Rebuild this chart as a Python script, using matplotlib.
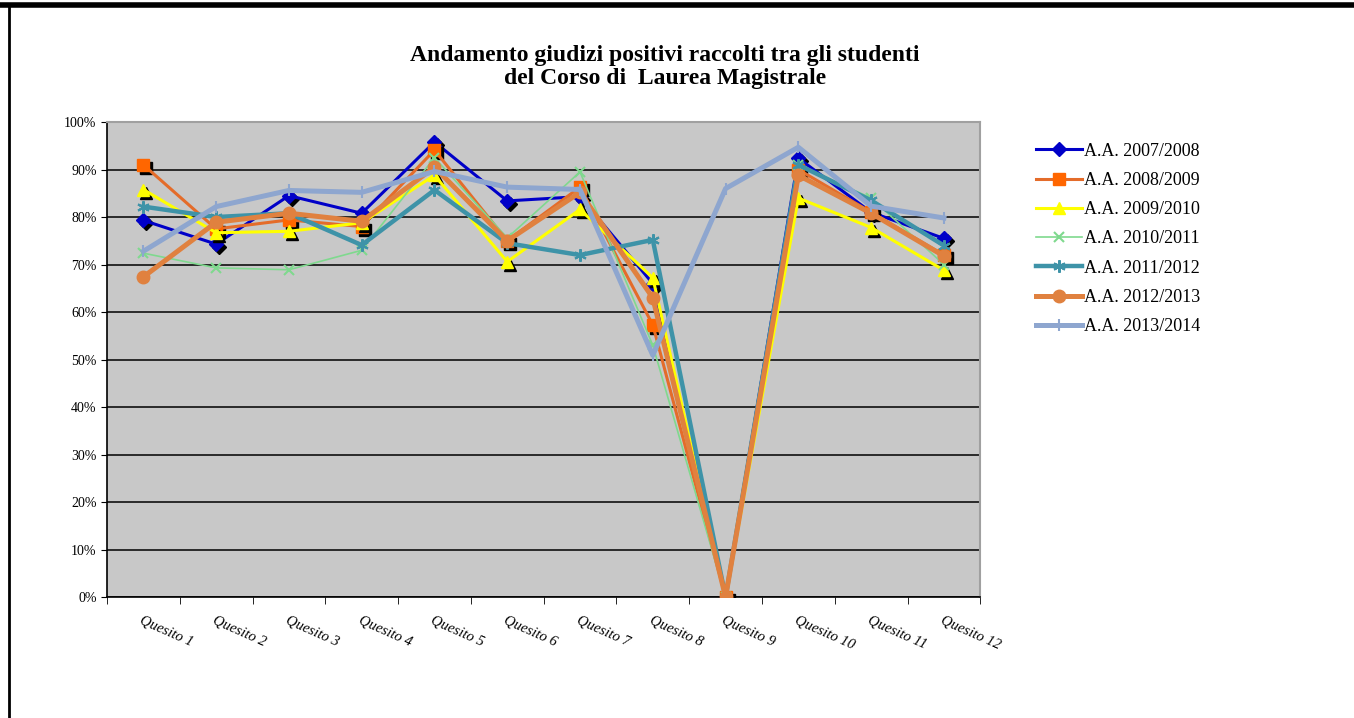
import matplotlib
matplotlib.use('Agg')
import matplotlib.pyplot as plt
import matplotlib.transforms as mtransforms
from matplotlib.lines import Line2D
from matplotlib.ticker import FuncFormatter, FixedLocator
import numpy as np

questions = ['Quesito 1', 'Quesito 2', 'Quesito 3', 'Quesito 4', 'Quesito 5', 'Quesito 6',
             'Quesito 7', 'Quesito 8', 'Quesito 9', 'Quesito 10', 'Quesito 11', 'Quesito 12']

years = ['A.A. 2007/2008', 'A.A. 2008/2009', 'A.A. 2009/2010', 'A.A. 2010/2011',
         'A.A. 2011/2012', 'A.A. 2012/2013', 'A.A. 2013/2014']

# percent of positive answers
aa_0708 = [79.3, 74.3, 84.5, 80.8, 95.8, 83.4, 84.3, 66.0, 0, 92.4, 81.0, 75.5]
aa_0809 = [91.0, 77.5, 79.4, 78.0, 94.1, 75.0, 86.3, 57.3, 0, 90.0, 81.0, 72.0]
aa_0910 = [85.8, 76.7, 77.0, 78.8, 88.8, 70.6, 81.6, 67.2, 0, 84.0, 77.8, 68.8]
aa_1011 = [72.4, 69.3, 68.9, 73.0, 92.5, 75.6, 89.5, 53.0, 0, 91.0, 84.0, 70.0]
aa_1112 = [82.2, 80.0, 80.8, 74.1, 85.7, 74.5, 72.0, 75.2, 0, 91.0, 83.5, 74.0]
aa_1213 = [67.4, 78.9, 80.8, 79.1, 90.5, 75.0, 85.2, 63.0, 0, 88.8, 80.8, 71.8]
aa_1314 = [72.8, 82.2, 85.6, 85.2, 89.6, 86.3, 85.8, 50.9, 86.0, 94.7, 82.3, 79.8]

series = [aa_0708, aa_0809, aa_0910, aa_1011, aa_1112, aa_1213, aa_1314]

line_colors = ['#0000C8', '#E46C2A', '#FFFF00', '#7FD98E', '#3E93A8', '#E0813F', '#8EA6CF']
marker_colors = ['#0000C8', '#FF6600', '#FFFF00', '#7FD98E', '#3E93A8', '#E0813F', '#8EA6CF']
markers = ['D', 's', '^', 'x', (6, 2, 0), 'o', '|']
marker_sizes = [7, 9, 9, 7, 9, 9, 9]
line_widths = [2.2, 2.2, 2.2, 1.2, 3.2, 3.6, 3.6]
shadowed = [True, True, True, False, False, False, False]

serif = ['Liberation Serif', 'DejaVu Serif']

fig = plt.figure(figsize=(13.54, 7.18), dpi=100)
ax = fig.add_axes([0.079, 0.1685, 0.645, 0.6615])
ax.set_facecolor('#C8C8C8')

x = np.arange(1, len(questions) + 1)

for i, vals in enumerate(series):
    vals = np.array(vals) / 100
    if shadowed[i]:
        # black drop shadow behind the markers, like Excel draws it
        shadow = mtransforms.offset_copy(ax.transData, fig=fig, x=3, y=-3, units='dots')
        ax.plot(x, vals, linestyle='none', marker=markers[i], markersize=marker_sizes[i],
                color='black', transform=shadow, zorder=2 + i * 0.1)
    ax.plot(x, vals, color=line_colors[i], linewidth=line_widths[i], marker=markers[i],
            markersize=marker_sizes[i], markerfacecolor=marker_colors[i],
            markeredgecolor=marker_colors[i], markeredgewidth=1.5 if i in (3, 4, 6) else 1,
            label=years[i], zorder=2.05 + i * 0.1)

ax.set_xlim(0.5, 12.5)
ax.set_ylim(0, 1)
ax.set_yticks(np.arange(0, 1.01, 0.1))
ax.yaxis.set_major_formatter(FuncFormatter(lambda v, p: '{:.0f}%'.format(v * 100)))
ax.grid(axis='y', color='black', linewidth=1.1, zorder=1)
ax.set_axisbelow(True)

ax.set_xticks(x)
ax.set_xticklabels(questions, rotation=-24, ha='left', va='top', rotation_mode='anchor',
                   family=serif, style='italic', fontsize=10.5)
ax.xaxis.set_minor_locator(FixedLocator(np.arange(0.5, 12.6, 1)))
ax.tick_params(axis='x', which='major', length=0, pad=12)
ax.tick_params(axis='x', which='minor', length=5, direction='out', color='black')
ax.tick_params(axis='y', length=4, direction='out', labelsize=10)
for lab in ax.get_yticklabels():
    lab.set_family(serif)

for side in ['top', 'right']:
    ax.spines[side].set_color('#A0A0A0')
    ax.spines[side].set_linewidth(1.5)
for side in ['left', 'bottom']:
    ax.spines[side].set_color('black')
    ax.spines[side].set_linewidth(1.2)

fig.text(0.491, 0.907, 'Andamento giudizi positivi raccolti tra gli studenti\ndel Corso di  Laurea Magistrale',
         ha='center', va='center', family=serif, fontweight='bold', fontsize=17, linespacing=1.12)

leg = ax.legend(loc='upper left', bbox_to_anchor=(1.055, 0.972), frameon=False,
                prop={'family': serif, 'size': 13}, handlelength=2.6, handletextpad=0.1,
                labelspacing=0.68, borderaxespad=0)

# page frame
fig.add_artist(Line2D([0, 1], [0.9935, 0.9935], color='black', linewidth=4, transform=fig.transFigure))
fig.add_artist(Line2D([0.0065, 0.0065], [0, 0.995], color='black', linewidth=2, transform=fig.transFigure))

fig.savefig('out.png', dpi=100)
